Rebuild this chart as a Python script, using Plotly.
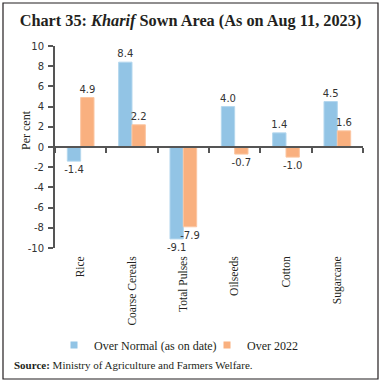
import plotly.graph_objects as go

categories = ["Rice", "Coarse Cereals", "Total Pulses", "Oilseeds", "Cotton", "Sugarcane"]
over_normal = [-1.4, 8.4, -9.1, 4.0, 1.4, 4.5]
over_2022 = [4.9, 2.2, -7.9, -0.7, -1.0, 1.6]
y_ticks = [-10, -8, -6, -4, -2, 0, 2, 4, 6, 8, 10]

BLUE = "#92C4E5"
ORANGE = "#F9B07F"
SERIF = "Liberation Serif"
SANS = "DejaVu Sans"
TXT = "#231F20"

fig = go.Figure()
for name, vals, col, edge in [
    ("Over Normal (as on date)", over_normal, BLUE, "#B3D7EE"),
    ("Over 2022", over_2022, ORANGE, "#FBC6A2"),
]:
    fig.add_trace(go.Bar(
        x=categories, y=vals, name=name, showlegend=False,
        marker=dict(color=col, line=dict(color=edge, width=1)),
        text=[f"{v:.1f}" for v in vals], textposition="outside",
        cliponaxis=False, constraintext="none",
        textfont=dict(family=SANS, size=10, color="#333333"),
    ))
    # legend entry with a small square symbol
    fig.add_trace(go.Scatter(
        x=[None], y=[None], name=name, mode="markers",
        marker=dict(symbol="square", size=7, color=col), showlegend=True,
    ))

# helper trace for the zero-line axis with boundary ticks
fig.add_trace(go.Scatter(x=categories, y=[None] * len(categories), xaxis="x2",
                         mode="markers", showlegend=False, hoverinfo="skip"))

fig.update_layout(
    width=381, height=382,
    margin=dict(l=55, r=18, t=46, b=134),
    paper_bgcolor="white", plot_bgcolor="white",
    barmode="group", bargap=0.48, bargroupgap=0,
    title=dict(
        text="<b>Chart 35: <i>Kharif</i> Sown Area (As on Aug 11, 2023)</b>",
        font=dict(family=SERIF, size=16.3, color=TXT),
        x=0.5, xanchor="center", y=1 - 20 / 382, yanchor="middle",
        xref="container", yref="container", automargin=False,
    ),
    xaxis=dict(
        type="category", range=[-0.5, 5.5], showline=False, ticks="",
        showgrid=False, tickangle=-90, automargin=False, ticklabelstandoff=5,
        tickfont=dict(family=SERIF, size=11.5, color=TXT),
    ),
    xaxis2=dict(
        type="category", overlaying="x", anchor="free", position=0.5,
        range=[-0.5, 5.5], showline=True, linecolor="#555555", linewidth=1.5,
        ticks="outside", tickson="boundaries", ticklen=5, tickcolor="#555555",
        tickwidth=1.5, showticklabels=False, showgrid=False, side="bottom",
        automargin=False,
    ),
    yaxis=dict(
        range=[-10, 10], tickvals=y_ticks, ticktext=[str(v) for v in y_ticks],
        showgrid=False, zeroline=False, automargin=False,
        showline=True, linecolor="#555555", linewidth=2,
        ticks="outside", ticklen=5, tickcolor="#555555", tickwidth=1.5,
        ticklabelstandoff=2,
        tickfont=dict(family=SANS, size=10, color="#333333"),
    ),
    legend=dict(
        orientation="h", x=54 / 381, xanchor="left", xref="container",
        y=1 - 345 / 382, yanchor="middle", yref="container",
        font=dict(family=SERIF, size=12, color=TXT),
        itemwidth=30, tracegroupgap=0,
        entrywidth=108, entrywidthmode="pixels",
    ),
    shapes=[dict(
        type="rect", xref="paper", yref="paper",
        x0=(3 - 55) / 308, x1=(378 - 55) / 308,
        y0=(248 - 379) / 202, y1=(248 - 3) / 202,
        line=dict(color=TXT, width=1.2), fillcolor="rgba(0,0,0,0)",
    )],
    annotations=[
        dict(
            text="Per cent", textangle=-90,
            xref="paper", yref="paper", x=(26 - 55) / 308, y=(248 - 130) / 202,
            xanchor="center", yanchor="middle", showarrow=False,
            font=dict(family=SERIF, size=12, color=TXT),
        ),
        dict(
            text="<b>Source:</b> Ministry of Agriculture and Farmers Welfare.",
            xref="paper", yref="paper", x=(12 - 55) / 308, y=(248 - 365) / 202,
            xanchor="left", yanchor="middle", showarrow=False,
            font=dict(family=SERIF, size=11, color=TXT),
        ),
    ],
)

fig.write_html("out.html", config={"displayModeBar": False},
               post_script="document.body.style.margin='0';")
